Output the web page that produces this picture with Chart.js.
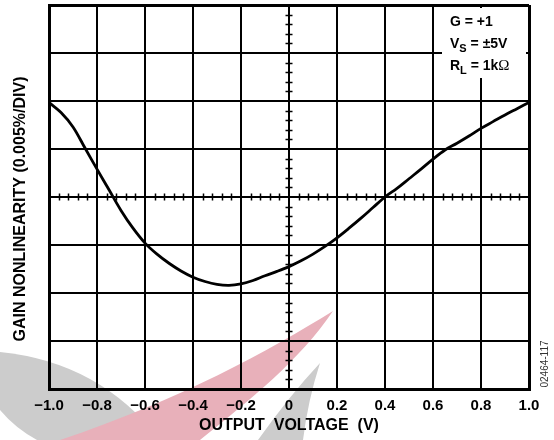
<!DOCTYPE html>
<html>
<head>
<meta charset="utf-8">
<script src="https://cdn.jsdelivr.net/npm/chart.js@4/dist/chart.umd.min.js"></script>
<style>
  html, body { margin: 0; padding: 0; background: #ffffff; }
  #wrap { width: 554px; height: 440px; position: relative; }
</style>
</head>
<body>
<div id="wrap"><canvas id="c" width="554" height="440"></canvas></div>
<script>
// ---- Data ----
const outputVoltage = [
  -1.00, -0.95, -0.90, -0.85, -0.80, -0.75, -0.70, -0.65, -0.60, -0.55,
  -0.50, -0.45, -0.40, -0.35, -0.30, -0.25, -0.20, -0.15, -0.10, -0.05,
   0.00,  0.05,  0.10,  0.15,  0.20,  0.25,  0.30,  0.35,  0.40,  0.45,
   0.50,  0.55,  0.60,  0.65,  0.70,  0.75,  0.80,  0.85,  0.90,  0.95, 1.00
];
// gain nonlinearity in divisions (1 div = 0.005%)
const gainNonlinearity = [
   1.97,  1.76,  1.46,  1.02,  0.58,  0.15, -0.28, -0.65, -0.96, -1.19,
  -1.38, -1.54, -1.67, -1.76, -1.82, -1.84, -1.81, -1.74, -1.64, -1.55,
  -1.45, -1.33, -1.19, -1.03, -0.85, -0.65, -0.44, -0.22,  0.00,  0.18,
   0.38,  0.58,  0.79,  0.98,  1.12,  1.27,  1.43,  1.57,  1.71,  1.84, 1.97
];
const xTickLabels = ['\u22121.0', '\u22120.8', '\u22120.6', '\u22120.4', '\u22120.2', '0', '0.2', '0.4', '0.6', '0.8', '1.0'];
const xTitle = 'OUTPUT  VOLTAGE  (V)';
const yTitle = 'GAIN NONLINEARITY (0.005%/DIV)';
const legendLines = [
  { main: 'G = +1', sub: '', rest: '' },
  { main: 'V', sub: 'S', rest: ' = \u00B15V' },
  { main: 'R', sub: 'L', rest: ' = 1k' }
];
const figureId = '02464-117';

const FONT = "'Liberation Sans', Arial, Helvetica, sans-serif";

// decorative watermark behind the chart
const watermark = {
  id: 'watermark',
  beforeDraw(chart) {
    const ctx = chart.ctx;
    ctx.save();
    ctx.fillStyle = 'rgb(204,204,204)';
    ctx.beginPath();
    ctx.moveTo(0, 352);
    ctx.quadraticCurveTo(100, 362, 160, 440);
    ctx.lineTo(37, 440);
    ctx.quadraticCurveTo(15, 428, 0, 410);
    ctx.closePath();
    ctx.fill();
    ctx.fillStyle = 'rgb(232,176,186)';
    ctx.beginPath();
    ctx.moveTo(333, 311);
    ctx.bezierCurveTo(270, 350, 180, 400, 60, 440);
    ctx.lineTo(200, 440);
    ctx.bezierCurveTo(250, 400, 300, 360, 333, 311);
    ctx.closePath();
    ctx.fill();
    ctx.fillStyle = 'rgb(204,204,204)';
    ctx.beginPath();
    ctx.moveTo(320, 363);
    ctx.quadraticCurveTo(290, 395, 258, 440);
    ctx.lineTo(303, 440);
    ctx.quadraticCurveTo(308, 400, 320, 363);
    ctx.closePath();
    ctx.fill();
    ctx.restore();
  }
};

// minor ticks on the centre axes, from the scales (5 subdivisions per grid division)
const centreTicks = {
  id: 'centreTicks',
  beforeDatasetsDraw(chart) {
    const {ctx, scales: {x, y}} = chart;
    const x0 = x.getPixelForValue(0);
    const y0 = y.getPixelForValue(0);
    ctx.save();
    ctx.strokeStyle = '#000';
    ctx.lineWidth = 1.5;
    ctx.beginPath();
    for (let i = -25; i <= 25; i++) {
      if (i % 5 === 0) continue;
      const px = Math.round(x.getPixelForValue(i * 0.04)) + 0.5;
      ctx.moveTo(px, y0 - 3.5);
      ctx.lineTo(px, y0 + 3.5);
    }
    for (let j = -20; j <= 20; j++) {
      if (j % 5 === 0) continue;
      const py = Math.round(y.getPixelForValue(j * 0.2)) + 0.5;
      ctx.moveTo(x0 - 3.5, py);
      ctx.lineTo(x0 + 3.5, py);
    }
    ctx.stroke();
    ctx.restore();
  }
};

const annotations = {
  id: 'annotations',
  afterDraw(chart) {
    const {ctx, chartArea: ca} = chart;
    ctx.save();
    // legend box
    ctx.fillStyle = '#fff';
    ctx.fillRect(ca.right - 87, ca.top + 3, 84, 70);
    ctx.fillStyle = '#000';
    ctx.textBaseline = 'alphabetic';
    ctx.textAlign = 'left';
    const lx = ca.right - 79;
    const baselines = [ca.top + 21, ca.top + 43, ca.top + 65];
    legendLines.forEach((ln, i) => {
      let xx = lx;
      ctx.font = 'bold 14px ' + FONT;
      ctx.fillText(ln.main, xx, baselines[i]);
      xx += ctx.measureText(ln.main).width;
      if (ln.sub) {
        ctx.font = 'bold 11px ' + FONT;
        ctx.fillText(ln.sub, xx, baselines[i] + 4);
        xx += ctx.measureText(ln.sub).width;
      }
      ctx.font = 'bold 14px ' + FONT;
      ctx.fillText(ln.rest, xx, baselines[i]);
      xx += ctx.measureText(ln.rest).width;
      if (i === 2) {
        ctx.font = "15px 'Liberation Serif', serif";
        ctx.fillText('\u03A9', xx, baselines[i]);
      }
    });
    // y title
    ctx.font = 'bold 16px ' + FONT;
    ctx.textAlign = 'center';
    ctx.textBaseline = 'middle';
    ctx.translate(21, (ca.top + ca.bottom) / 2 + 12);
    ctx.rotate(-Math.PI / 2);
    ctx.fillText(yTitle, 0, 0);
    ctx.restore();
    // figure id
    ctx.save();
    ctx.font = '10px ' + FONT;
    ctx.fillStyle = '#333';
    ctx.textAlign = 'center';
    ctx.textBaseline = 'middle';
    ctx.translate(545, ca.bottom - 25);
    ctx.rotate(-Math.PI / 2);
    ctx.fillText(figureId, 0, 0);
    ctx.restore();
  }
};

const edgeWidth = (c, n) => (c.index === 0 || c.index === n) ? 3 : 2;

new Chart(document.getElementById('c'), {
  type: 'line',
  data: {
    labels: outputVoltage,
    datasets: [{
      data: outputVoltage.map((v, i) => ({ x: v, y: gainNonlinearity[i] })),
      borderColor: '#000',
      borderWidth: 2.8,
      pointRadius: 0,
      tension: 0.35,
      fill: false
    }]
  },
  options: {
    responsive: false,
    animation: false,
    devicePixelRatio: 1,
    layout: { padding: { left: 0, right: 25, top: 5, bottom: 0 } },
    plugins: { legend: { display: false }, tooltip: { enabled: false } },
    scales: {
      x: {
        type: 'linear', min: -1, max: 1,
        ticks: {
          stepSize: 0.2, autoSkip: false, maxRotation: 0, padding: 8,
          color: '#000', font: { family: FONT, size: 15, weight: 'bold' },
          callback: (v, i) => xTickLabels[i]
        },
        grid: { color: '#000', lineWidth: c => edgeWidth(c, 10), drawTicks: false },
        border: { display: true, color: '#000', width: 3 },
        title: {
          display: true, text: xTitle, color: '#000',
          font: { family: FONT, size: 16, weight: 'bold' },
          padding: { top: 0, bottom: 5 }
        },
        afterFit: s => { s.height = 51; }
      },
      y: {
        type: 'linear', min: -4, max: 4,
        ticks: { stepSize: 1, display: false },
        grid: { color: '#000', lineWidth: c => edgeWidth(c, 8), drawTicks: false },
        border: { display: true, color: '#000', width: 3 },
        afterFit: s => { s.width = 49; }
      }
    }
  },
  plugins: [watermark, centreTicks, annotations]
});
</script>
</body>
</html>
